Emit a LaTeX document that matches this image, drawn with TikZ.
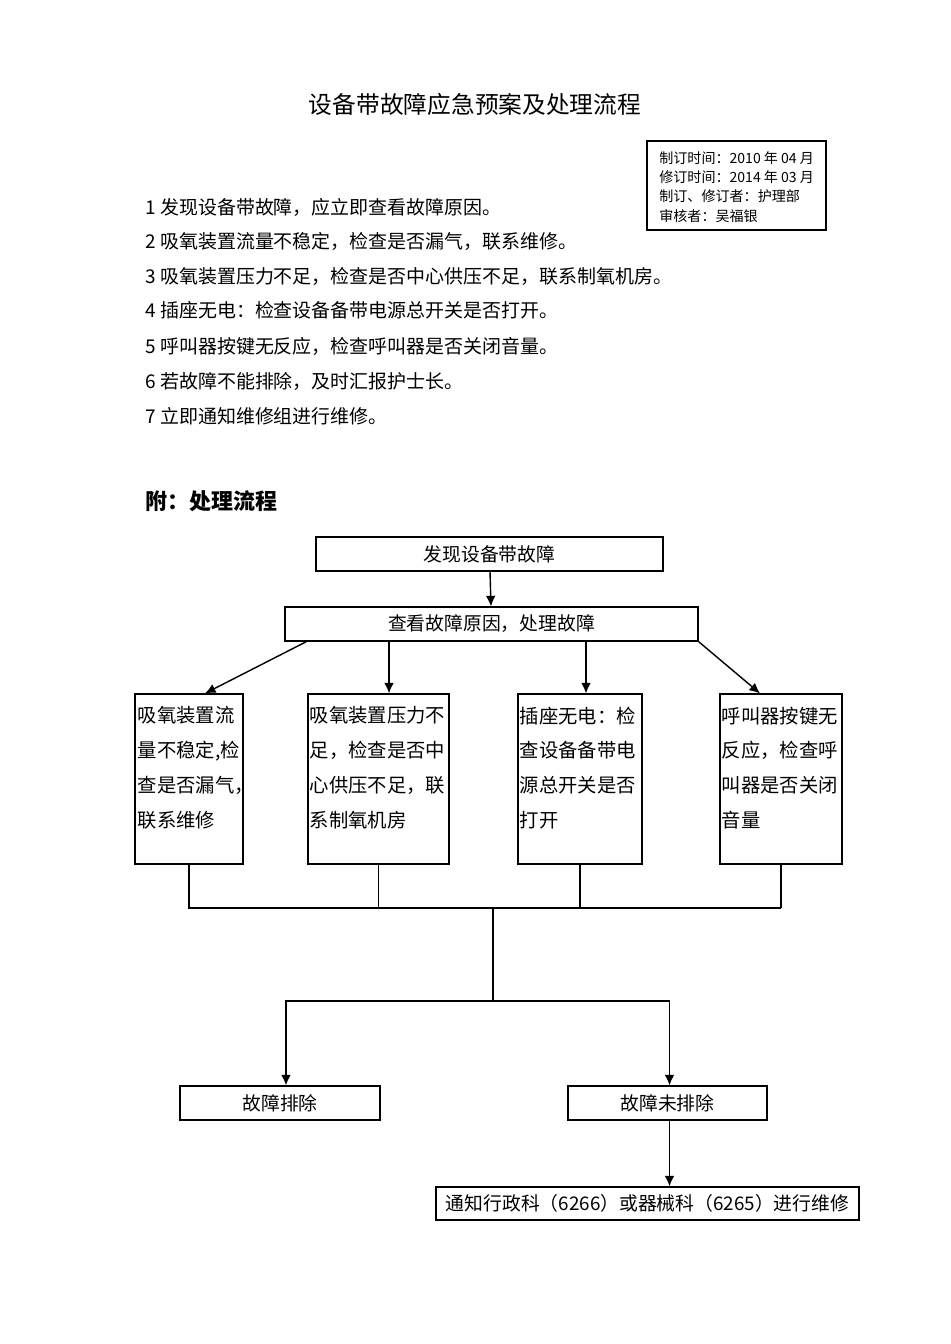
\documentclass[tikz,border=0pt]{standalone}
\usepackage{fontspec}
\setmainfont{Noto Sans CJK SC}
\usetikzlibrary{arrows.meta}

\begin{document}
\begin{tikzpicture}[x=0.02cm,y=-0.02cm,
    flowbox/.style={draw,line width=0.7pt,minimum height=0.68cm,inner sep=0pt,font=\fontsize{10.7}{12}\selectfont},
    tallbox/.style={draw,line width=0.7pt,minimum height=3.4cm,inner sep=0pt},
    boxtext/.style={anchor=north west,align=left,inner sep=0pt,font=\fontsize{11}{19.8}\selectfont},
    listline/.style={anchor=west,inner sep=0pt,font=\fontsize{10.8}{12}\selectfont},
    arr/.style={line width=0.8pt,-{Latex[length=6pt,width=5.5pt]}},
    link/.style={line width=0.7pt}]
    \useasboundingbox[fill=white] (0,0) rectangle (950,1344);
    \node[font=\fontsize{13.5}{15}\selectfont] (title) at (475,104) {设备带故障应急预案及处理流程};
    \node[draw,line width=0.7pt,minimum width=3.58cm,minimum height=1.78cm] (revbox) at (736.5,185.5) {};
    \node[anchor=north west,align=left,inner sep=0pt,font=\fontsize{8}{11}\selectfont] (revtext) at (659,151)
      {制订时间：2010 年 04 月\\修订时间：2014 年 03 月\\制订、修订者：护理部\\审核者：吴福银};
    \node[listline] (item1) at (145,207) {1 发现设备带故障，应立即查看故障原因。};
    \node[listline] (item2) at (145,241) {2 吸氧装置流量不稳定，检查是否漏气，联系维修。};
    \node[listline] (item3) at (145,276) {3 吸氧装置压力不足，检查是否中心供压不足，联系制氧机房。};
    \node[listline] (item4) at (145,310) {4 插座无电：检查设备备带电源总开关是否打开。};
    \node[listline] (item5) at (145,346) {5 呼叫器按键无反应，检查呼叫器是否关闭音量。};
    \node[listline] (item6) at (145,381) {6 若故障不能排除，及时汇报护士长。};
    \node[listline] (item7) at (145,416) {7 立即通知维修组进行维修。};
    \node[listline,font=\fontsize{12.5}{14}\selectfont\bfseries] (appendix) at (145,501) {附：处理流程};
    \node[flowbox,minimum width=6.94cm] (found) at (489.5,554) {发现设备带故障};
    \node[flowbox,minimum width=8.26cm] (check) at (491.5,624) {查看故障原因，处理故障};
    \node[tallbox,minimum width=2.16cm] (oxyflow) at (189,779) {};
    \node[tallbox,minimum width=2.82cm] (oxypress) at (378.5,779) {};
    \node[tallbox,minimum width=2.48cm] (socket) at (580,779) {};
    \node[tallbox,minimum width=2.44cm] (caller) at (781,779) {};
    \node[boxtext] (oxyflowtext) at ([shift={(3,13)}]oxyflow.north west) {吸氧装置流\\量不稳定,检\\查是否漏气，\\联系维修};
    \node[boxtext] (oxypresstext) at ([shift={(2,13)}]oxypress.north west) {吸氧装置压力不\\足，检查是否中\\心供压不足，联\\系制氧机房};
    \node[boxtext] (sockettext) at ([shift={(2,13)}]socket.north west) {插座无电：检\\查设备备带电\\源总开关是否\\打开};
    \node[boxtext] (callertext) at ([shift={(2,13)}]caller.north west) {呼叫器按键无\\反应，检查呼\\叫器是否关闭\\音量};
    \node[flowbox,minimum width=4cm] (fixed) at (280,1103) {故障排除};
    \node[flowbox,minimum width=3.98cm] (notfixed) at (667.5,1103) {故障未排除};
    \node[flowbox,minimum width=8.46cm,minimum height=0.66cm] (notify) at (647.5,1203.5) {通知行政科（6266）或器械科（6265）进行维修};
    \coordinate (join) at (493,908);
    \coordinate (split) at (493,1001);
    \draw[arr] (found) -- (check);
    \draw[arr] ([xshift=0.44cm]check.south west) -- ([xshift=0.32cm]oxyflow.north);
    \draw[arr] ([xshift=0.21cm]oxypress.north |- check.south) -- ([xshift=0.21cm]oxypress.north);
    \draw[arr] ([xshift=0.12cm]socket.north |- check.south) -- ([xshift=0.12cm]socket.north);
    \draw[arr] (check.south east) -- ([xshift=-0.42cm]caller.north);
    \draw[link] (oxyflow.south) -- (oxyflow.south |- join) -- (caller.south |- join);
    \draw[link] (oxypress.south) -- (oxypress.south |- join);
    \draw[link] (socket.south) -- (socket.south |- join);
    \draw[link] (caller.south) -- (caller.south |- join);
    \draw[link] (join) -- (split);
    \draw[arr] (split) -| ([xshift=0.12cm]fixed.north);
    \draw[arr] (split) -| ([xshift=0.04cm]notfixed.north);
    \draw[arr] ([xshift=0.04cm]notfixed.south) -- ([xshift=0.04cm]notfixed.south |- notify.north);
\end{tikzpicture}
\end{document}
